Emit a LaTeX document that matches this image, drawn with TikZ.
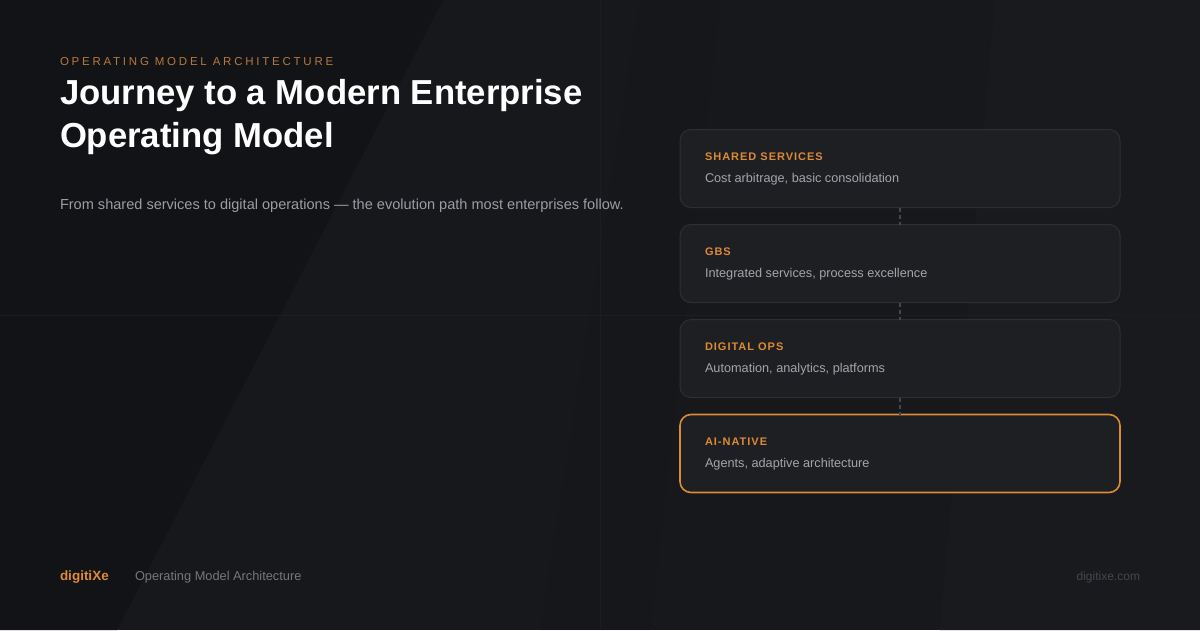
\documentclass[tikz,border=0pt]{standalone}
\usepackage{fontspec}
\setmainfont{Liberation Sans}
\newfontfamily\eyebrowfont[LetterSpace=24]{Liberation Sans}
\newfontfamily\lblfont[LetterSpace=9]{Liberation Sans}
\definecolor{bgbase}{HTML}{17181C}
\definecolor{bgdark}{HTML}{121316}
\definecolor{bgright}{HTML}{191A1E}
\definecolor{gridc}{HTML}{1C1D21}
\definecolor{boxfill}{HTML}{1E1F23}
\definecolor{boxline}{HTML}{2D2F34}
\definecolor{accent}{HTML}{DD8A36}
\definecolor{eyebrowc}{HTML}{B8783C}
\definecolor{subc}{HTML}{9B9DA3}
\definecolor{descc}{HTML}{A3A5AB}
\definecolor{footc}{HTML}{75777D}
\definecolor{urlc}{HTML}{44464C}
\definecolor{dashc}{HTML}{45474D}
\begin{document}
\begin{tikzpicture}[x=1pt,y=-1pt,
  txt/.style={inner sep=0pt, outer sep=0pt, anchor=base west},
  stagebox/.style={draw=boxline, line width=1pt, fill=boxfill, rounded corners=11pt,
    minimum width=440pt, minimum height=78pt, inner sep=0pt, outer sep=0pt, anchor=north west},
  activebox/.style={stagebox, draw=accent, line width=1.6pt},
  stagelbl/.style={txt, text=accent, font=\lblfont\bfseries\fontsize{11}{13}\selectfont},
  stagedesc/.style={txt, text=descc, font=\fontsize{12.7}{15}\selectfont},
  dashline/.style={draw=dashc, line width=1.3pt, dash pattern=on 4pt off 3pt}
]
% background
\useasboundingbox (0,0) rectangle (1200,630);
\fill[bgbase] (0,0) rectangle (1200,630);
\fill[bgright] (995,0) -- (1200,0) -- (1200,630) -- (940,630) -- cycle;
\fill[bgdark] (0,0) -- (443,0) -- (117,630) -- (0,630) -- cycle;
\fill[bgdark, opacity=0.2] (640,0) -- (720,0) -- (650,630) -- (540,630) -- cycle;
\draw[gridc, line width=0.8pt] (600,0) -- (600,630);
\draw[gridc, line width=0.8pt] (0,315) -- (1200,315);

% header
\node[txt, text=eyebrowc, font=\eyebrowfont\fontsize{11.5}{14}\selectfont] (eyebrow) at (60,65) {OPERATING MODEL ARCHITECTURE};
\node[txt, text=white, font=\bfseries\fontsize{34.7}{40}\selectfont] (title1) at (60,104) {Journey to a Modern Enterprise};
\node[txt, text=white, font=\bfseries\fontsize{34.7}{40}\selectfont] (title2) at (60,147) {Operating Model};
\node[txt, text=subc, font=\fontsize{14.55}{17}\selectfont] (sub) at (60,209) {From shared services to digital operations — the evolution path most enterprises follow.};

% stages
\node[stagebox] (s1) at (680,129.5) {};
\node[stagebox] (s2) at (680,224.5) {};
\node[stagebox] (s3) at (680,319.5) {};
\node[activebox] (s4) at (680,414.5) {};

\draw[dashline] (s1.south) -- (s2.north);
\draw[dashline] (s2.south) -- (s3.north);
\draw[dashline] (s3.south) -- (s4.north);

\node[stagelbl] (l1) at (705,160) {SHARED SERVICES};
\node[stagedesc] (d1) at (705,182) {Cost arbitrage, basic consolidation};
\node[stagelbl] (l2) at (705,255) {GBS};
\node[stagedesc] (d2) at (705,277) {Integrated services, process excellence};
\node[stagelbl] (l3) at (705,350) {DIGITAL OPS};
\node[stagedesc] (d3) at (705,372) {Automation, analytics, platforms};
\node[stagelbl] (l4) at (705,445) {AI-NATIVE};
\node[stagedesc] (d4) at (705,467) {Agents, adaptive architecture};

% footer
\node[txt, text=accent, font=\bfseries\fontsize{13.5}{15}\selectfont] (brand) at (60,580) {digitiXe};
\node[txt, text=footc, font=\fontsize{12.8}{15}\selectfont] (foot) at (135,580) {Operating Model Architecture};
\node[inner sep=0pt, outer sep=0pt, anchor=base east, text=urlc, font=\fontsize{12}{14}\selectfont] (url) at (1140,580) {digitixe.com};
\end{tikzpicture}
\end{document}
